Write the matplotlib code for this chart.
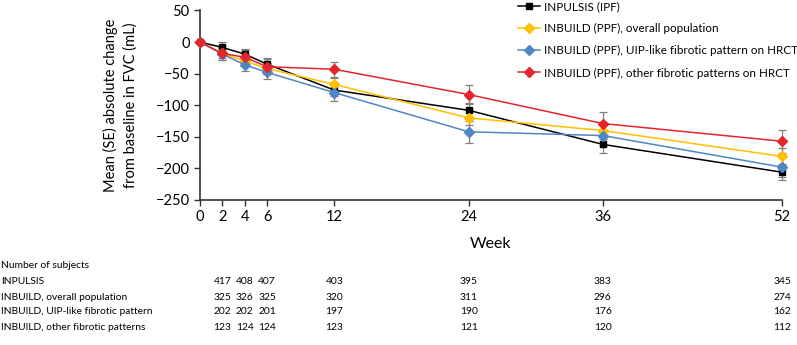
import matplotlib
matplotlib.use("Agg")
import matplotlib.pyplot as plt
import matplotlib.transforms as mtransforms

plt.rcParams["font.family"] = ["Lato", "DejaVu Sans"]

weeks = [0, 2, 4, 6, 12, 24, 36, 52]

series_names = [
    "INPULSIS (IPF)",
    "INBUILD (PPF), overall population",
    "INBUILD (PPF), UIP-like fibrotic pattern on HRCT",
    "INBUILD (PPF), other fibrotic patterns on HRCT",
]
inpulsis = [0, -8.5, -19, -35, -76, -108, -162, -206]
inbuild_all = [0, -18, -30, -42, -67, -120, -140, -181]
inbuild_uip = [0, -19, -36, -48, -80, -142, -148, -198]
inbuild_other = [0, -18, -24, -39, -43, -83, -129, -157]

se_inpulsis = [0, 8, 8, 9, 10, 12, 14, 13]
se_all = [0, 8, 8, 9, 10, 12, 14, 13]
se_uip = [0, 10, 10, 11, 14, 17, 16, 16]
se_other = [0, 11, 11, 12, 12, 15, 18, 18]

colors = ["#000000", "#FFC000", "#4F86C6", "#E2262B"]
markers = ["s", "D", "D", "D"]

table_title = "Number of subjects"
row_labels = [
    "INPULSIS",
    "INBUILD, overall population",
    "INBUILD, UIP-like fibrotic pattern",
    "INBUILD, other fibrotic patterns",
]
table_weeks = [2, 4, 6, 12, 24, 36, 52]
n_inpulsis = [417, 408, 407, 403, 395, 383, 345]
n_all = [325, 326, 325, 320, 311, 296, 274]
n_uip = [202, 202, 201, 197, 190, 176, 162]
n_other = [123, 124, 124, 123, 121, 120, 112]

fig = plt.figure(figsize=(7.97, 3.45), dpi=100)
ax = fig.add_axes([0.2509, 0.4203, 0.7303, 0.5493])

all_means = [inpulsis, inbuild_all, inbuild_uip, inbuild_other]
all_se = [se_inpulsis, se_all, se_uip, se_other]
for name, y, se, c, m in zip(series_names, all_means, all_se, colors, markers):
    ax.errorbar(weeks, y, yerr=se, fmt="none", ecolor="#808080", elinewidth=0.9,
                capsize=3, capthick=0.9, clip_on=False, zorder=2)
    ax.plot(weeks, y, color=c, marker=m, markersize=4.5 if m == "s" else 5,
            linewidth=1.1, label=name, clip_on=False, zorder=3)

ax.set_xlim(0, 52)
ax.set_ylim(-250, 50)
ax.set_xticks(weeks)
ax.set_yticks(range(-250, 51, 50))
ax.tick_params(labelsize=10.5, color="#333333", length=4, width=1)
ax.set_yticklabels([f"{v}".replace("-", "\u2212") for v in range(-250, 51, 50)])
for s in ["top", "right"]:
    ax.spines[s].set_visible(False)
for s in ["left", "bottom"]:
    ax.spines[s].set_color("#333333")
    ax.spines[s].set_linewidth(1.2)

ax.set_xlabel("Week", fontsize=11.5, labelpad=9)
ax.set_ylabel("Mean (SE) absolute change\nfrom baseline in FVC (mL)", fontsize=10.5,
              labelpad=13, linespacing=1.45)

ax.legend(loc="upper left", bbox_to_anchor=(517 / 797, 1.0), bbox_transform=fig.transFigure,
          frameon=False, fontsize=8.4, handlelength=1.9, handletextpad=0.35,
          labelspacing=0.95, borderaxespad=0, borderpad=0.1)

# numbers-at-risk table under the axis
trans = mtransforms.blended_transform_factory(ax.transData, fig.transFigure)
row_y = [282, 297, 312, 327]
fs = 7.4
fig.text(1 / 797, 1 - 266 / 345, table_title, fontsize=fs, va="center", ha="left")
for label, yy, counts in zip(row_labels, row_y, [n_inpulsis, n_all, n_uip, n_other]):
    fig.text(1 / 797, 1 - yy / 345, label, fontsize=fs, va="center", ha="left")
    for w, n in zip(table_weeks, counts):
        ax.text(w, 1 - yy / 345, str(n), transform=trans, fontsize=fs,
                va="center", ha="center")

fig.savefig("out.png", dpi=100)
